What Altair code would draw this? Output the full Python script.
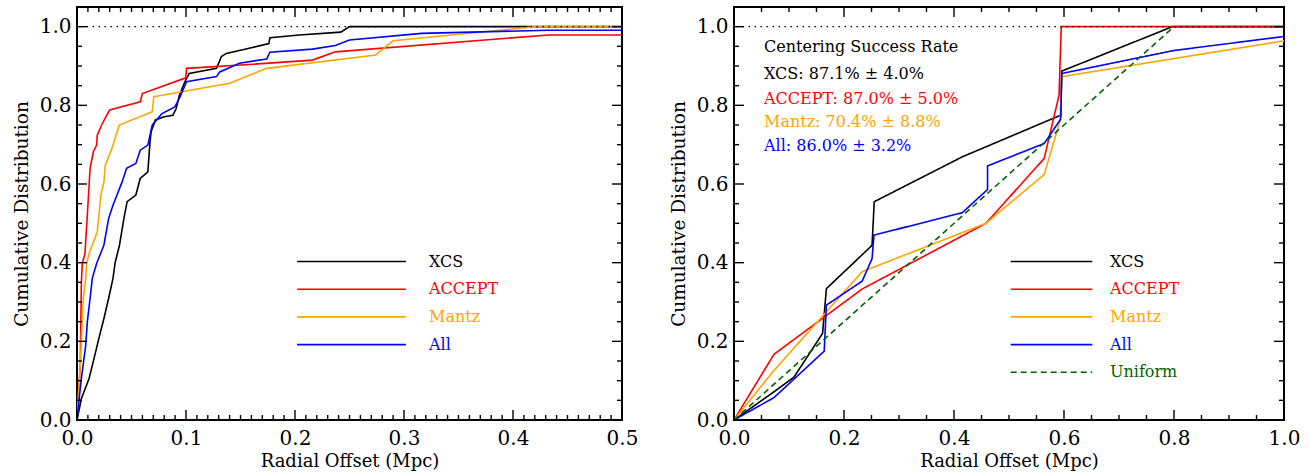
import altair as alt
import pandas as pd

FONT = "DejaVu Serif"

names4 = ["XCS", "ACCEPT", "Mantz", "All"]
colors4 = ["#000000", "#ff0000", "#ffa500", "#0000ff"]
names5 = names4 + ["Uniform"]
colors5 = colors4 + ["#006400"]

# ---------------- left panel: cumulative distribution of offsets (0 - 0.5 Mpc)
xcs_l_x = [0, 0.004, 0.011, 0.0156, 0.020, 0.0247, 0.029, 0.033, 0.035, 0.039, 0.041, 0.043, 0.046,
           0.054, 0.058, 0.065, 0.067, 0.068, 0.072, 0.080, 0.088, 0.091, 0.094, 0.099, 0.103, 0.128,
           0.1325, 0.137, 0.158, 0.176, 0.177, 0.204, 0.242, 0.25, 0.5]
xcs_l_y = [0, 0.054, 0.105, 0.156, 0.207, 0.258, 0.309, 0.36, 0.40, 0.445, 0.478, 0.512, 0.555,
           0.572, 0.614, 0.631, 0.707, 0.733, 0.763, 0.771, 0.775, 0.792, 0.826, 0.86, 0.881, 0.894,
           0.924, 0.932, 0.945, 0.957, 0.972, 0.979, 0.986, 1.0, 1.0]
acc_l_x = [0, 0.001, 0.003, 0.0034, 0.004, 0.0049, 0.0073, 0.0085, 0.0095, 0.012, 0.015, 0.018,
           0.0186, 0.0226, 0.0266, 0.030, 0.058, 0.060, 0.0998, 0.1005, 0.158, 0.216, 0.237, 0.433, 0.5]
acc_l_y = [0, 0.054, 0.139, 0.224, 0.351, 0.398, 0.423, 0.478, 0.521, 0.64, 0.682, 0.699,
           0.724, 0.75, 0.771, 0.788, 0.809, 0.83, 0.87, 0.894, 0.904, 0.915, 0.936, 0.979, 0.979]
man_l_x = [0, 0.003, 0.0043, 0.0058, 0.008, 0.0089, 0.011, 0.0186, 0.0195, 0.022, 0.0247, 0.026,
           0.032, 0.0388, 0.069, 0.0705, 0.140, 0.174, 0.274, 0.29, 0.421, 0.5]
man_l_y = [0, 0.139, 0.224, 0.309, 0.36, 0.398, 0.423, 0.478, 0.504, 0.572, 0.606, 0.648,
           0.69, 0.75, 0.784, 0.822, 0.856, 0.894, 0.928, 0.964, 1.0, 1.0]
all_l_x = [0, 0.002, 0.004, 0.008, 0.0095, 0.012, 0.014, 0.018, 0.0247, 0.029, 0.033, 0.0415,
           0.0455, 0.054, 0.058, 0.065, 0.069, 0.0714, 0.078, 0.0897, 0.094, 0.1005, 0.128, 0.131,
           0.149, 0.174, 0.177, 0.216, 0.237, 0.25, 0.316, 0.433, 0.5]
all_l_y = [0, 0.054, 0.105, 0.19, 0.25, 0.309, 0.36, 0.398, 0.445, 0.512, 0.546, 0.606,
           0.64, 0.652, 0.686, 0.699, 0.75, 0.758, 0.779, 0.796, 0.818, 0.86, 0.873, 0.885,
           0.907, 0.918, 0.935, 0.943, 0.952, 0.966, 0.983, 0.991, 0.991]

# ---------------- right panel: cumulative distribution (0 - 1 Mpc)
xcs_r_x = [0, 0.075, 0.109, 0.161, 0.168, 0.251, 0.255, 0.415, 0.594, 0.596, 0.797, 1.0]
xcs_r_y = [0, 0.074, 0.109, 0.22, 0.334, 0.444, 0.555, 0.669, 0.775, 0.887, 1.0, 1.0]
acc_r_x = [0, 0.0727, 0.233, 0.458, 0.564, 0.591, 0.595, 1.0]
acc_r_y = [0, 0.167, 0.333, 0.5, 0.665, 0.826, 1.0, 1.0]
man_r_x = [0, 0.0727, 0.233, 0.458, 0.564, 0.593, 0.596, 1.0]
man_r_y = [0, 0.126, 0.377, 0.5, 0.624, 0.762, 0.873, 0.964]
all_r_x = [0, 0.0727, 0.164, 0.168, 0.233, 0.251, 0.2545, 0.415, 0.461, 0.461, 0.564, 0.594,
           0.596, 0.8, 1.0]
all_r_y = [0, 0.057, 0.175, 0.292, 0.353, 0.41, 0.47, 0.527, 0.586, 0.646, 0.703, 0.765,
           0.881, 0.9395, 0.975]
uni_r_x = [0, 0.8]
uni_r_y = [0, 1.0]

annot_text = ["Centering Success Rate", "XCS: 87.1% \u00b1 4.0%", "ACCEPT: 87.0% \u00b1 5.0%",
              "Mantz: 70.4% \u00b1 8.8%", "All: 86.0% \u00b1 3.2%"]
annot_color = ["#000000", "#000000", "#ff0000", "#ffa500", "#0000ff"]

x_ticks_left = [0.0, 0.1, 0.2, 0.3, 0.4, 0.5]
x_ticks_right = [0.0, 0.2, 0.4, 0.6, 0.8, 1.0]
y_ticks = [0.0, 0.2, 0.4, 0.6, 0.8, 1.0]

W_L, W_R, H = 545, 550, 413
TICK_MAJ, TICK_MIN = 10, 5


def long_df(pairs, names):
    rows = []
    for (xs, ys), n in zip(pairs, names):
        for i, (a, b) in enumerate(zip(xs, ys)):
            rows.append({"x": a, "y": b, "series": n, "i": i})
    return pd.DataFrame(rows)


def label_color_expr(names, colors):
    expr = "'black'"
    for n, c in reversed(list(zip(names, colors))):
        expr = f"datum.label == '{n}' ? '{c}' : ({expr})"
    return {"expr": expr}


def minor(lo, hi, step, majors):
    n = int(round((hi - lo) / step))
    vals = [round(lo + k * step, 4) for k in range(n + 1)]
    return [v for v in vals if all(abs(v - m) > 1e-9 for m in majors)]


def panel(df, names, colors, xdom, xmaj, xstep, width, legend_x, sym_path, label_off,
          dashed=False, extra=None):
    xs = alt.Scale(domain=xdom, nice=False, zero=False)
    ys = alt.Scale(domain=[0, 1.05], nice=False, zero=False)
    xaxis = alt.Axis(values=xmaj, format=".1f", ticks=False, domain=False, grid=False,
                     labelFont=FONT, labelFontSize=20, labelColor="black", labelPadding=8,
                     labelFlush=False, title="Radial Offset (Mpc)", titleFont=FONT,
                     titleFontSize=18, titleFontWeight="normal", titleColor="black",
                     titlePadding=4)
    yaxis = alt.Axis(values=y_ticks, format=".1f", ticks=False, domain=False, grid=False,
                     labelFont=FONT, labelFontSize=20, labelColor="black", labelPadding=6,
                     title="Cumulative Distribution", titleFont=FONT, titleFontSize=18.5,
                     titleFontWeight="normal", titleColor="black", titlePadding=8)
    X = lambda f: alt.X(f, scale=xs, axis=xaxis)
    Y = lambda f: alt.Y(f, scale=ys, axis=yaxis)
    leg = alt.Legend(orient="none", legendX=legend_x, legendY=245.5, title=None,
                     symbolType=sym_path, symbolSize=256, symbolStrokeWidth=1.6,
                     labelFont=FONT, labelFontSize=16, labelOffset=label_off,
                     rowPadding=10.7, padding=0, labelLimit=300,
                     labelColor=label_color_expr(names, colors))
    enc = dict(
        x=X("x:Q"),
        y=Y("y:Q"),
        color=alt.Color("series:N", scale=alt.Scale(domain=names, range=colors), legend=leg),
        order=alt.Order("i:Q"),
    )
    if dashed:
        dashes = [[1, 0]] * (len(names) - 1) + [[6, 4]]
        enc["strokeDash"] = alt.StrokeDash("series:N", scale=alt.Scale(domain=names, range=dashes),
                                           legend=leg)
    lines = alt.Chart(df).mark_line(strokeWidth=1.6, clip=True).encode(**enc)

    dotted = alt.Chart(pd.DataFrame({"y": [1.0]})).mark_rule(
        color="black", strokeDash=[1.5, 4.5], strokeWidth=1.4
    ).encode(y=Y("y:Q"))

    layers = [lines, dotted]
    # ticks on all four sides, pointing inward
    xmin = minor(xdom[0], xdom[1], xstep, xmaj)
    ymin = minor(0, 1.05, 0.05, y_ticks)
    for vals, ln in [(xmaj, TICK_MAJ), (xmin, TICK_MIN)]:
        base = alt.Chart(pd.DataFrame({"x": vals})).mark_rule(color="black", strokeWidth=1.4)
        layers.append(base.encode(x=X("x:Q"), y=alt.value(H), y2=alt.value(H - ln)))
        layers.append(base.encode(x=X("x:Q"), y=alt.value(0), y2=alt.value(ln)))
    for vals, ln in [(y_ticks, TICK_MAJ), (ymin, TICK_MIN)]:
        base = alt.Chart(pd.DataFrame({"y": vals})).mark_rule(color="black", strokeWidth=1.4)
        layers.append(base.encode(y=Y("y:Q"), x=alt.value(0), x2=alt.value(ln)))
        layers.append(base.encode(y=Y("y:Q"), x=alt.value(width), x2=alt.value(width - ln)))
    if extra:
        layers += extra
    return alt.layer(*layers).properties(width=width, height=H)


left_df = long_df([(xcs_l_x, xcs_l_y), (acc_l_x, acc_l_y), (man_l_x, man_l_y), (all_l_x, all_l_y)], names4)
right_df = long_df([(xcs_r_x, xcs_r_y), (acc_r_x, acc_r_y), (man_r_x, man_r_y), (all_r_x, all_r_y),
                    (uni_r_x, uni_r_y)], names5)

baselines = [45, 72, 96.5, 119.5, 143.5]
annots = []
for t, c, b in zip(annot_text, annot_color, baselines):
    annots.append(
        alt.Chart(pd.DataFrame({"t": [t]})).mark_text(
            align="left", baseline="alphabetic", font=FONT, fontSize=16, color=c
        ).encode(text="t:N", x=alt.value(30), y=alt.value(b))
    )

left = panel(left_df, names4, colors4, [0, 0.5], x_ticks_left, 0.01, W_L,
             legend_x=265.5, sym_path="M-6.8,0H6.8", label_off=68.5)
right = panel(right_df, names5, colors5, [0, 1.0], x_ticks_right, 0.05, W_R,
              legend_x=308.5, sym_path="M-5.1,0H5.1", label_off=49.5, dashed=True, extra=annots)

chart = alt.hconcat(left, right, spacing=29).resolve_scale(
    color="independent", strokeDash="independent"
).properties(
    padding={"left": 11, "top": 5, "right": 2, "bottom": 2}, background="white"
).configure_view(stroke="black", strokeWidth=2)

chart.save("out.html", embed_options={"renderer": "svg", "actions": False})
